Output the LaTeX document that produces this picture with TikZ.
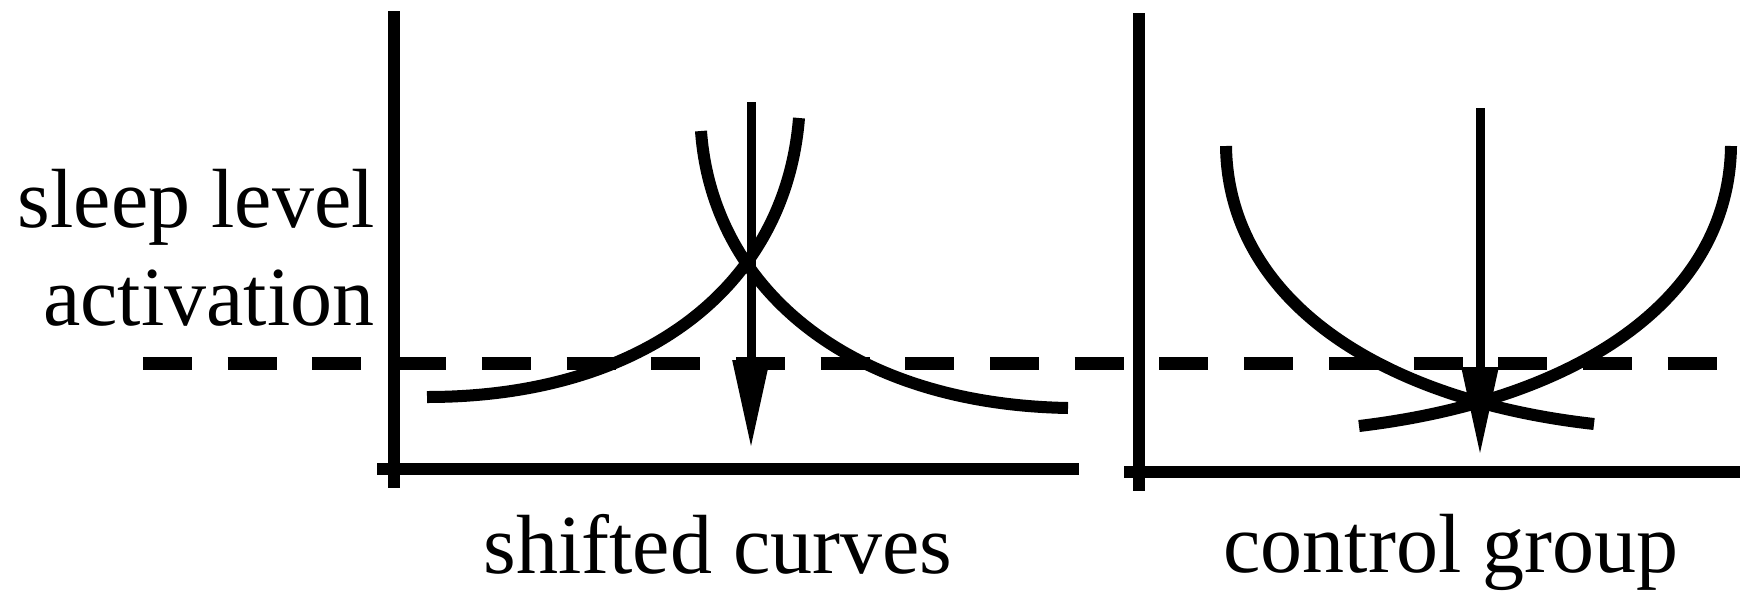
\documentclass[tikz,border=0pt]{standalone}
\usepackage{fontspec}
\setmainfont{Liberation Serif}
\usetikzlibrary{arrows.meta}
\begin{document}
\begin{tikzpicture}[x=0.5pt,y=-0.5pt,
  axisline/.style={line width=6pt},
  curveline/.style={line width=6pt},
  levelline/.style={line width=6.5pt, dash pattern=on 24.5pt off 17.85pt},
  shaft/.style={line width=4.5pt, -{Triangle[length=44pt,width=17.5pt]}},
  lbl/.style={inner sep=0pt, font=\fontsize{42}{48}\selectfont}]
\useasboundingbox (0,0) rectangle (1740,590);
% left panel axes
\coordinate (LYt) at (394,11);
\coordinate (LYb) at (394,488);
\coordinate (LXl) at (377,469);
\coordinate (LXr) at (1079,469);
\draw[axisline] (LYt) -- (LYb);
\draw[axisline] (LXl) -- (LXr);
% right panel axes
\coordinate (RYt) at (1139,13);
\coordinate (RYb) at (1139,491);
\coordinate (RXl) at (1124,472);
\coordinate (RXr) at (1740,472);
\draw[axisline] (RYt) -- (RYb);
\draw[axisline] (RXl) -- (RXr);
% dashed level line
\coordinate (Dl) at (143,363);
\coordinate (Dr) at (1717,363);
\draw[levelline] (Dl) -- (Dr);
% left curves
\coordinate (A0) at (427,397);
\coordinate (A1) at (799,118);
\draw[curveline] (A0) .. controls (640,397) and (785,290) .. (A1);
\coordinate (B0) at (701,131);
\coordinate (B1) at (1068,408);
\draw[curveline] (B0) .. controls (712,285) and (845,404) .. (B1);
% right curves
\coordinate (C0) at (1226,146);
\coordinate (C1) at (1594,424);
\draw[curveline] (C0) .. controls (1228,300) and (1380,400) .. (C1);
\coordinate (D0) at (1731,146);
\coordinate (D1) at (1359,426);
\draw[curveline] (D0) .. controls (1729,300) and (1577,400) .. (D1);
% arrows
\coordinate (LAt) at (751,102);
\coordinate (LAb) at (751,448);
\draw[shaft] (LAt) -- (LAb);
\coordinate (RAt) at (1480,108);
\coordinate (RAb) at (1480,455);
\draw[shaft] (RAt) -- (RAb);
% labels
\node[lbl, anchor=base east] (sl) at (375,227) {sleep level};
\node[lbl, anchor=base east] (ac) at (375,325) {activation};
\node[lbl, anchor=base west] (sc) at (483,573) {shifted curves};
\node[lbl, anchor=base west] (cg) at (1223,572) {control group};
\end{tikzpicture}
\end{document}
